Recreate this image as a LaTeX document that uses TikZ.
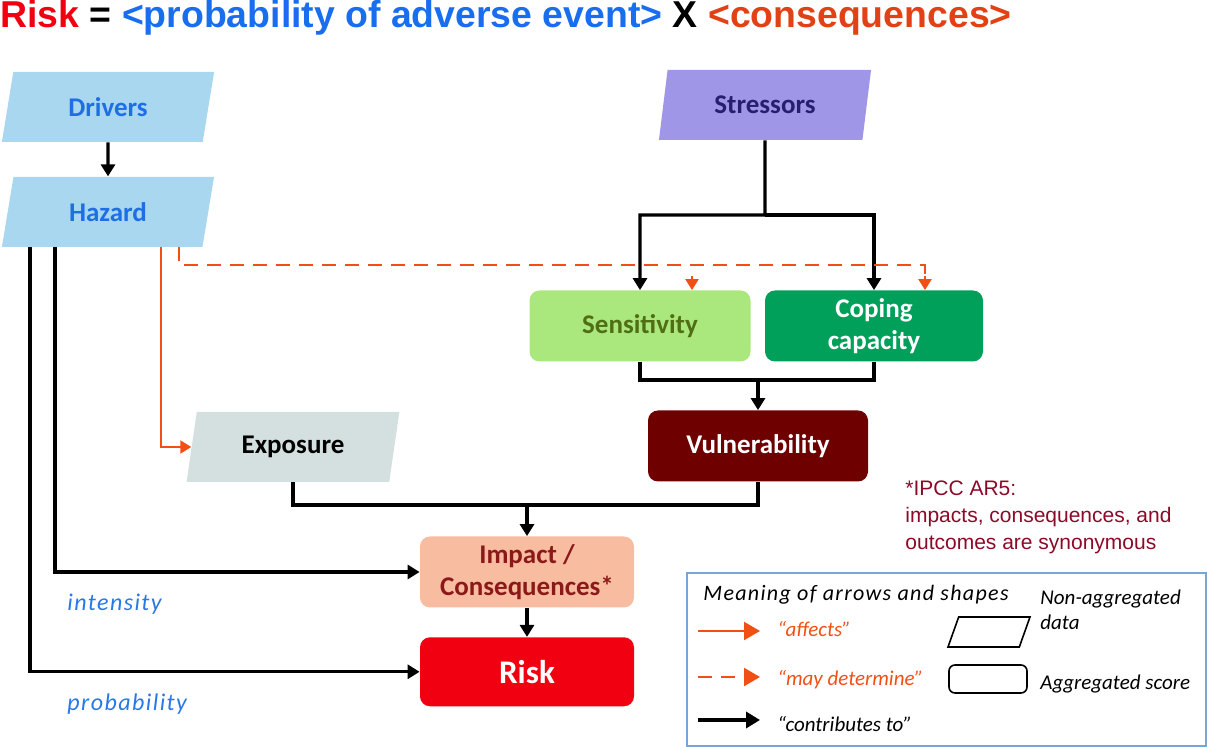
\documentclass[tikz,border=0pt]{standalone}
\usepackage{fontspec}
\setmainfont{Carlito}
\newfontfamily\arialfont{Liberation Sans}
\newfontfamily\spacedfont[LetterSpace=6]{Carlito}
\usetikzlibrary{shapes.geometric,arrows.meta,positioning}
\definecolor{driverfill}{RGB}{170,215,240}
\definecolor{drivertext}{RGB}{30,110,230}
\definecolor{stressfill}{RGB}{160,150,232}
\definecolor{stresstext}{RGB}{40,30,110}
\definecolor{sensfill}{RGB}{170,232,125}
\definecolor{senstext}{RGB}{80,110,20}
\definecolor{copefill}{RGB}{0,160,90}
\definecolor{vulnfill}{RGB}{110,0,0}
\definecolor{expfill}{RGB}{212,224,224}
\definecolor{impfill}{RGB}{248,188,160}
\definecolor{imptext}{RGB}{140,25,25}
\definecolor{riskfill}{RGB}{240,0,16}
\definecolor{affectcol}{RGB}{240,80,20}
\definecolor{notecol}{RGB}{140,10,40}
\definecolor{legendblue}{RGB}{120,165,215}
\definecolor{labelblue}{RGB}{40,120,230}
\definecolor{titleblue}{RGB}{25,110,240}
\definecolor{conseqcol}{RGB}{225,65,20}

\begin{document}
\begin{tikzpicture}[
  x=0.5pt, y=-0.5pt, >=Triangle,
  para/.style={trapezium,trapezium left angle=76,trapezium right angle=104,
    trapezium stretches=true,inner sep=0pt,align=center,
    font=\fontsize{13.5}{16}\selectfont\bfseries,
    minimum width=106.5pt,minimum height=35pt},
  agg/.style={rectangle,rounded corners=5pt,inner sep=0pt,align=center,
    font=\fontsize{13.5}{16}\selectfont\bfseries,
    minimum width=108pt,minimum height=35.5pt},
  contrib/.style={-{Triangle[length=6pt,width=7pt]},line width=1.6pt,black},
  joinline/.style={line width=1.6pt,black},
  affect/.style={-{Triangle[length=5.5pt,width=6.5pt]},line width=1.1pt,color=affectcol},
  maydet/.style={line width=1.1pt,color=affectcol,dash pattern=on 7pt off 4.5pt},
  sidelabel/.style={anchor=base west,inner sep=0pt,font=\spacedfont\fontsize{12}{14}\selectfont\itshape,text=labelblue},
  legtext/.style={anchor=base west,inner sep=0pt,font=\fontsize{10.5}{12.5}\selectfont\itshape,align=left},
]
\useasboundingbox (0,0) rectangle (1207,747);

% title
\node[anchor=base west,inner sep=0pt,font=\arialfont\bfseries\fontsize{18.7}{22}\selectfont] (title) at (0,28)
  {\textcolor{riskfill}{Risk} = \textcolor{titleblue}{<probability of adverse event>} X \textcolor{conseqcol}{<consequences>}};

% nodes
\node[para,fill=driverfill,text=drivertext] (drivers) at (108,107) {Drivers};
\node[para,fill=driverfill,text=drivertext,below=17pt of drivers] (hazard) {Hazard};
\node[para,fill=stressfill,text=stresstext] (stressors) at (765,105) {Stressors};
\node[agg,fill=sensfill,text=senstext,minimum width=110.5pt] (sens) at (640,326) {Sensitivity};
\node[agg,fill=copefill,text=white,minimum width=109pt] (coping) at (874,326) {Coping\\capacity};
\node[agg,fill=vulnfill,text=white,minimum width=110pt] (vuln) at (758,446) {Vulnerability};
\node[para,fill=expfill,text=black] (exposure) at (293,447) {Exposure};
\node[agg,fill=impfill,text=imptext,minimum width=107pt] (impact) at (527,572) {Impact /\\Consequences*};
\node[agg,fill=riskfill,text=white,minimum width=107pt,minimum height=34.5pt,
  font=\fontsize{16.5}{18}\selectfont\bfseries,below=14.5pt of impact] (risk) {Risk};

\node[sidelabel] (intensity) at (67,611) {intensity};
\node[sidelabel] (probability) at (67,711) {probability};

\node[anchor=north west,align=left,inner sep=0pt,text=notecol,
  font=\arialfont\fontsize{10.5}{13.5}\selectfont] (note) at (905,480)
  {*IPCC AR5:\\impacts, consequences, and\\outcomes are synonymous};

% connectors
\draw[contrib] (drivers) -- (hazard);
\coordinate (sjoin) at (765,215);
\draw[contrib] (stressors.south) -- (sjoin) -| (sens.north);
\draw[contrib] (sjoin) -| (coping.north);
\draw[maydet] (179,0 |- hazard.south) |- (925,265) -- (925,276);
\draw[affect] (925,276) -- (coping.north -| 925,0);
\draw[affect] (692,276) -- (sens.north -| 692,0);
\draw[affect] (161,0 |- hazard.south) |- (exposure.west);
\draw[contrib] (30,0 |- hazard.south) |- (risk.west);
\draw[contrib] (55,0 |- hazard.south) |- (impact.west);
\coordinate (vjoin) at (758,380);
\draw[contrib] (sens.south) |- (vjoin) -- (vuln.north);
\draw[joinline] (coping.south) |- (vjoin);
\coordinate (ejoin) at (527,505);
\draw[contrib] (exposure.south) |- (ejoin) -- (impact.north);
\draw[joinline] (vuln.south) |- (ejoin);
\draw[contrib] (impact) -- (risk);

% legend
\node[draw=legendblue,line width=0.8pt,anchor=north west,minimum width=259.5pt,
  minimum height=86.5pt] (legend) at (686,572) {};
\node[anchor=base west,inner sep=0pt,font=\spacedfont\fontsize{11}{14}\selectfont\itshape] (legtitle) at (703,601)
  {Meaning of arrows and shapes};
\coordinate (la) at (698,631); \coordinate (lb) at (760,631);
\draw[affect,-{Triangle[length=8pt,width=9pt]}] (la) -- (lb);
\node[legtext,text=affectcol] (affects) at (777,637) {“affects”};
\coordinate (ma) at (698,677); \coordinate (mb) at (760,677);
\draw[maydet,-{Triangle[length=8pt,width=9pt]}] (ma) -- (mb);
\node[legtext,text=affectcol] (maydetermine) at (777,686) {“may determine”};
\coordinate (ca) at (698,720); \coordinate (cb) at (760,720);
\draw[contrib,line width=2.4pt,-{Triangle[length=7pt,width=8pt]}] (ca) -- (cb);
\node[legtext] (contributes) at (777,732) {“contributes to”};
\node[para,draw=black,thick,fill=none,inner sep=1pt,minimum width=41pt,minimum height=15pt,
  trapezium left angle=80,trapezium right angle=100] (legpara) at (989,632) {};
\node[agg,draw=black,thick,minimum width=39pt,minimum height=14pt,rounded corners=3pt] (legagg) at (988,679) {};
\node[legtext] (nonagg) at (1040,630) {Non-aggregated\\data};
\node[legtext] (aggscore) at (1040,690) {Aggregated score};
\end{tikzpicture}
\end{document}
